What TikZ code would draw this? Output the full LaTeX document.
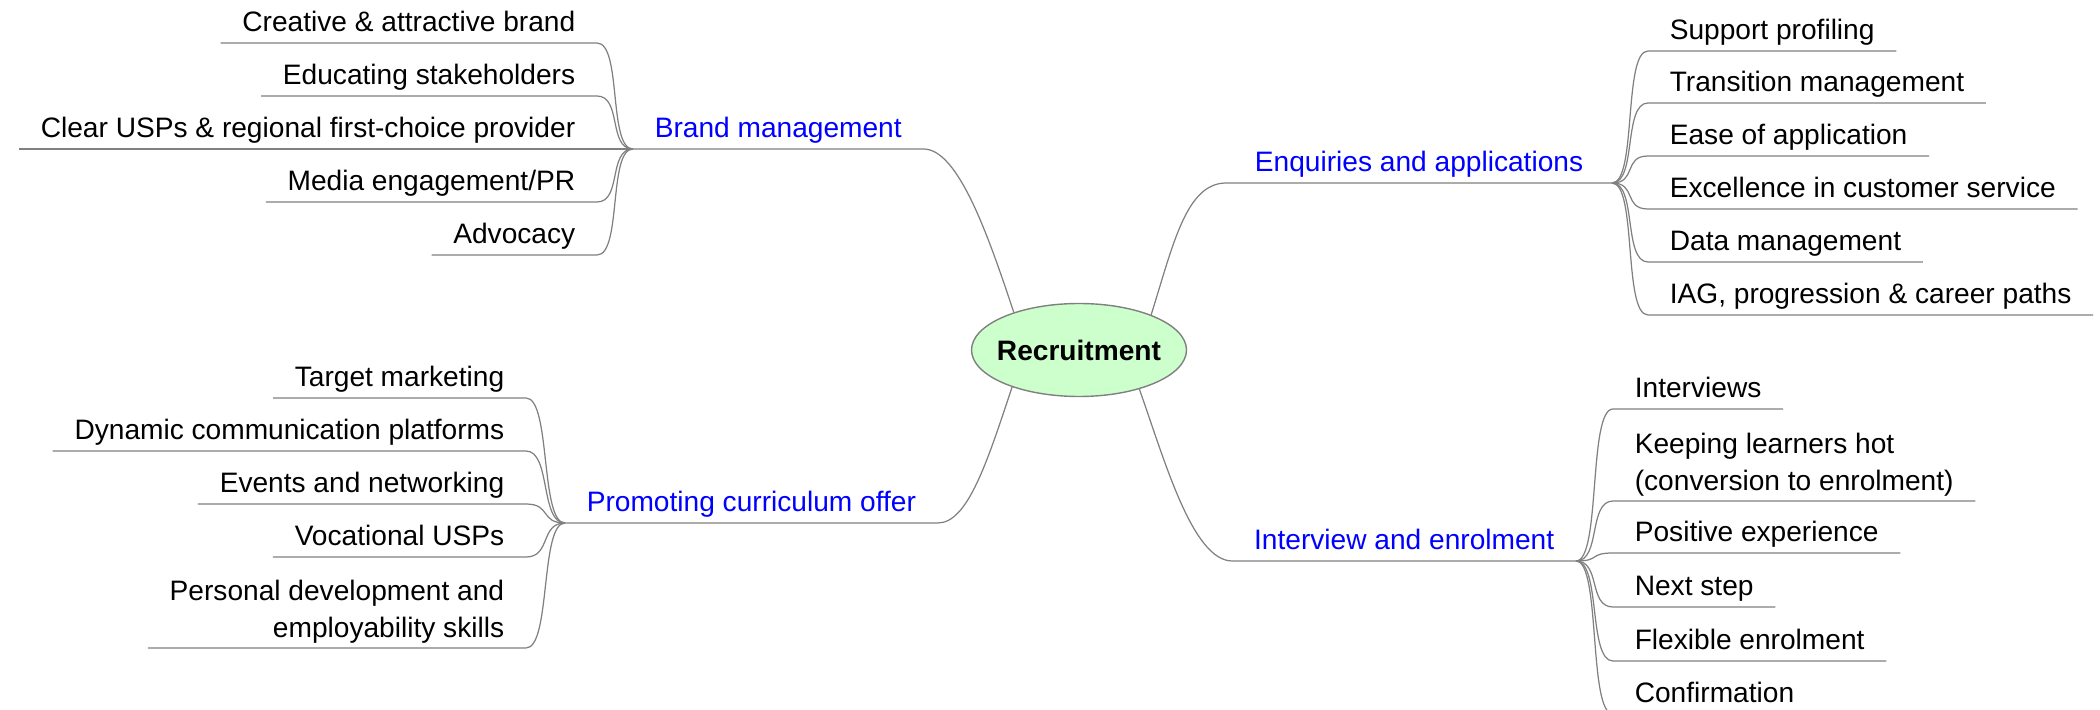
\documentclass[tikz,border=0pt]{standalone}
\usepackage{fontspec}
\setmainfont{Liberation Sans}
\usetikzlibrary{shapes.geometric}
\definecolor{hubgreen}{RGB}{204,255,204}
\definecolor{linegray}{RGB}{128,128,128}
\begin{document}
\begin{tikzpicture}[x=0.1mm,y=-0.1mm,
  font=\fontsize{8}{10.5}\selectfont,
  link/.style={draw=linegray,line width=0.35pt},
  hub/.style={ellipse,draw=linegray,fill=hubgreen,minimum width=21.5mm,minimum height=9.3mm,inner sep=0pt,
    label={[font=\fontsize{8}{10.5}\selectfont\bfseries]center:#1}},
  topic/.style={text=blue,inner xsep=6pt,inner ysep=1.1pt,text depth=2pt},
  itemr/.style={anchor=south west,inner xsep=6pt,inner ysep=1.1pt,text depth=2pt,align=left},
  iteml/.style={anchor=south east,inner xsep=6pt,inner ysep=1.1pt,text depth=2pt,align=right}]
\useasboundingbox (0,0) rectangle (2100,710);
\clip (0,0) rectangle (2100,710);

\node[hub=Recruitment] (rec) at (1079,350) {};

%branches
\node[topic,anchor=south west] (brand) at (633,149) {Brand management};
\node[topic,anchor=south west] (prom) at (565,523) {Promoting curriculum offer};
\node[topic,anchor=south east,inner xsep=8pt] (enq) at (1612,183) {Enquiries and applications};
\node[topic,anchor=south east] (intv) at (1576,561) {Interview and enrolment};

\draw[link] (brand.south west) -- (brand.south east) .. controls +(35,0) and +(-25,-75) .. (rec.150);
\draw[link] (prom.south west) -- (prom.south east) .. controls +(30,0) and +(-25,75) .. (rec.209);
\draw[link] (rec.26) .. controls +(22,-70) and +(-40,0) .. (enq.south west) -- (enq.south east);
\draw[link] (rec.327) .. controls +(25,70) and +(-40,0) .. (intv.south west) -- (intv.south east);

%brand management
\node[iteml] (b1) at (597,43) {Creative \& attractive brand};
\node[iteml] (b2) at (597,96) {Educating stakeholders};
\node[iteml] (b3) at (597,149) {Clear USPs \& regional first-choice provider};
\node[iteml] (b4) at (597,202) {Media engagement/PR};
\node[iteml] (b5) at (597,255) {Advocacy};
\draw[link] (b1.south west) -- (b1.south east) .. controls +(25,0) and +(-25,0) .. (brand.south west);
\draw[link] (b2.south west) -- (b2.south east) .. controls +(25,0) and +(-25,0) .. (brand.south west);
\draw[link] (b3.south west) -- (b3.south east) -- (brand.south west);
\draw[link] (b4.south west) -- (b4.south east) .. controls +(25,0) and +(-25,0) .. (brand.south west);
\draw[link] (b5.south west) -- (b5.south east) .. controls +(25,0) and +(-25,0) .. (brand.south west);

%promoting curriculum offer
\node[iteml] (p1) at (526,398) {Target marketing};
\node[iteml] (p2) at (526,451) {Dynamic communication platforms};
\node[iteml] (p3) at (526,504) {Events and networking};
\node[iteml] (p4) at (526,557) {Vocational USPs};
\node[iteml,text depth={}] (p5) at (526,648) {Personal development and\\employability skills};
\draw[link] (p1.south west) -- (p1.south east) .. controls +(25,0) and +(-25,0) .. (prom.south west);
\draw[link] (p2.south west) -- (p2.south east) .. controls +(25,0) and +(-25,0) .. (prom.south west);
\draw[link] (p3.south west) -- (p3.south east) .. controls +(25,0) and +(-25,0) .. (prom.south west);
\draw[link] (p4.south west) -- (p4.south east) .. controls +(25,0) and +(-25,0) .. (prom.south west);
\draw[link] (p5.south west) -- (p5.south east) .. controls +(25,0) and +(-25,0) .. (prom.south west);

%enquiries and applications
\node[itemr] (e1) at (1648,51) {Support profiling};
\node[itemr] (e2) at (1648,103) {Transition management};
\node[itemr] (e3) at (1648,156) {Ease of application};
\node[itemr] (e4) at (1648,209) {Excellence in customer service};
\node[itemr] (e5) at (1648,262) {Data management};
\node[itemr] (e6) at (1648,315) {IAG, progression \& career paths};
\draw[link] (enq.south east) .. controls +(25,0) and +(-25,0) .. (e1.south west) -- (e1.south east);
\draw[link] (enq.south east) .. controls +(25,0) and +(-25,0) .. (e2.south west) -- (e2.south east);
\draw[link] (enq.south east) .. controls +(25,0) and +(-25,0) .. (e3.south west) -- (e3.south east);
\draw[link] (enq.south east) .. controls +(25,0) and +(-25,0) .. (e4.south west) -- (e4.south east);
\draw[link] (enq.south east) .. controls +(25,0) and +(-25,0) .. (e5.south west) -- (e5.south east);
\draw[link] (enq.south east) .. controls +(25,0) and +(-25,0) .. (e6.south west) -- (e6.south east);

%interview and enrolment
\node[itemr] (i1) at (1613,409) {Interviews};
\node[itemr,text depth={}] (i2) at (1613,501) {Keeping learners hot\\(conversion to enrolment)};
\node[itemr] (i3) at (1613,553) {Positive experience};
\node[itemr] (i4) at (1613,607) {Next step};
\node[itemr] (i5) at (1613,661) {Flexible enrolment};
\node[itemr] (i6) at (1613,714) {Confirmation};
\draw[link] (intv.south east) .. controls +(25,0) and +(-25,0) .. (i1.south west) -- (i1.south east);
\draw[link] (intv.south east) .. controls +(25,0) and +(-25,0) .. (i2.south west) -- (i2.south east);
\draw[link] (intv.south east) .. controls +(25,0) and +(-25,0) .. (i3.south west) -- (i3.south east);
\draw[link] (intv.south east) .. controls +(25,0) and +(-25,0) .. (i4.south west) -- (i4.south east);
\draw[link] (intv.south east) .. controls +(25,0) and +(-25,0) .. (i5.south west) -- (i5.south east);
\draw[link] (intv.south east) .. controls +(25,0) and +(-25,0) .. (i6.south west) -- (i6.south east);

\end{tikzpicture}
\end{document}
